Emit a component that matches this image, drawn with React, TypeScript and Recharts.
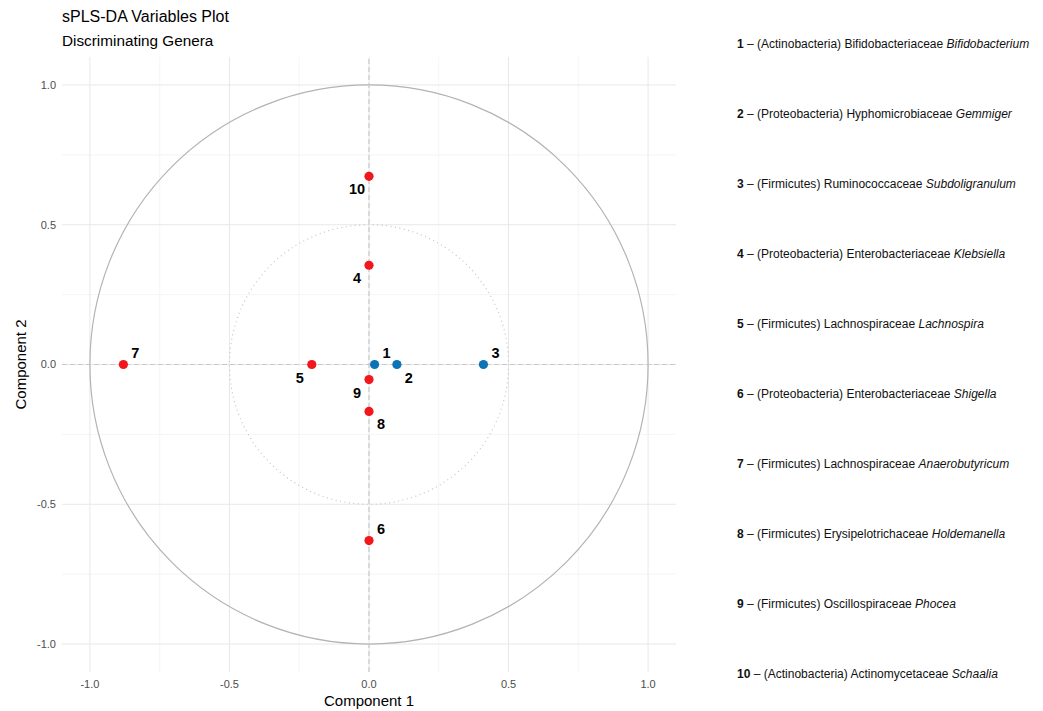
import React from 'react';
import {
  ScatterChart,
  Scatter,
  XAxis,
  YAxis,
  CartesianGrid,
  ReferenceLine,
  ReferenceArea,
  Cell,
} from 'recharts';

// ---- Data ----
const ids = [1, 2, 3, 4, 5, 6, 7, 8, 9, 10];
const comp1 = [0.02, 0.1, 0.41, 0, -0.205, 0, -0.88, 0, 0, 0];
const comp2 = [0, 0, 0, 0.355, 0, -0.63, 0, -0.168, -0.054, 0.673];
const groups = ['pos', 'pos', 'pos', 'neg', 'neg', 'neg', 'neg', 'neg', 'neg', 'neg'];
const labelSides = ['ur', 'dr', 'ur', 'dl', 'dl', 'ur', 'ur', 'dr', 'dl', 'dl'];

const phyla = [
  'Actinobacteria', 'Proteobacteria', 'Firmicutes', 'Proteobacteria', 'Firmicutes',
  'Proteobacteria', 'Firmicutes', 'Firmicutes', 'Firmicutes', 'Actinobacteria',
];
const families = [
  'Bifidobacteriaceae', 'Hyphomicrobiaceae', 'Ruminococcaceae', 'Enterobacteriaceae', 'Lachnospiraceae',
  'Enterobacteriaceae', 'Lachnospiraceae', 'Erysipelotrichaceae', 'Oscillospiraceae', 'Actinomycetaceae',
];
const genera = [
  'Bifidobacterium', 'Gemmiger', 'Subdoligranulum', 'Klebsiella', 'Lachnospira',
  'Shigella', 'Anaerobutyricum', 'Holdemanella', 'Phocea', 'Schaalia',
];

const axisTicks = [-1, -0.5, 0, 0.5, 1];
const minorTicks = [-0.75, -0.25, 0.25, 0.75];

const groupColors: Record<string, string> = { pos: '#0A74B5', neg: '#F2171C' };

const points = ids.map((id, i) => ({
  id,
  x: comp1[i],
  y: comp2[i],
  group: groups[i],
  side: labelSides[i],
}));

const FONT = '"Liberation Sans", Arial, Helvetica, sans-serif';

const PointShape = (props: any) => {
  const { cx, cy, payload } = props;
  if (cx == null || cy == null) return null;
  const side: string = payload.side;
  const dx = side.includes('r') ? 12 : -12;
  const dy = side.includes('u') ? -12 : 13;
  return (
    <g>
      <circle cx={cx} cy={cy} r={4.6} fill={groupColors[payload.group]} />
      <text
        x={cx + dx}
        y={cy + dy}
        textAnchor="middle"
        dominantBaseline="central"
        fontSize={14.5}
        fontWeight="bold"
        fill="#000"
        fontFamily={FONT}
      >
        {payload.id}
      </text>
    </g>
  );
};

const circleShape = (stroke: string, dash?: string) => (p: any) => (
  <ellipse
    cx={p.x + p.width / 2}
    cy={p.y + p.height / 2}
    rx={p.width / 2}
    ry={p.height / 2}
    fill="none"
    stroke={stroke}
    strokeWidth={1.2}
    strokeDasharray={dash}
  />
);

export default function App() {
  return (
    <div
      style={{
        position: 'absolute',
        left: 0,
        top: 0,
        width: 1043,
        height: 711,
        background: '#fff',
        fontFamily: FONT,
      }}
    >
      <div style={{ position: 'absolute', left: 62, top: 6, fontSize: 16, color: '#000', lineHeight: '22px' }}>
        sPLS-DA Variables Plot
      </div>
      <div style={{ position: 'absolute', left: 62, top: 31, fontSize: 15.3, color: '#000', lineHeight: '20px' }}>
        Discriminating Genera
      </div>

      <div style={{ position: 'absolute', left: 0, top: 0 }}>
        <ScatterChart width={700} height={711} margin={{ top: 57, right: 24, bottom: 0, left: 0 }}>
          <CartesianGrid
            stroke="#F0F0F0"
            strokeWidth={0.7}
            horizontalValues={minorTicks}
            verticalValues={minorTicks}
          />
          <CartesianGrid
            stroke="#E8E8E8"
            strokeWidth={1}
            horizontalValues={axisTicks}
            verticalValues={axisTicks}
          />
          <XAxis
            type="number"
            dataKey="x"
            domain={[-1.1, 1.1]}
            ticks={axisTicks}
            tickFormatter={(v: number) => v.toFixed(1)}
            axisLine={false}
            tickLine={false}
            tickSize={0}
            tickMargin={8}
            height={39}
            tick={{ fontSize: 11, fill: '#4D4D4D' }}
            allowDataOverflow
            label={{ value: 'Component 1', position: 'insideBottom', offset: 5, fontSize: 15, fill: '#000' }}
          />
          <YAxis
            type="number"
            dataKey="y"
            domain={[-1.1, 1.1]}
            ticks={axisTicks}
            tickFormatter={(v: number) => v.toFixed(1)}
            axisLine={false}
            tickLine={false}
            tickSize={0}
            tickMargin={6}
            width={62}
            tick={{ fontSize: 11, fill: '#4D4D4D' }}
            allowDataOverflow
            label={{
              value: 'Component 2',
              angle: -90,
              position: 'insideLeft',
              offset: 21,
              fontSize: 15,
              fill: '#000',
              style: { textAnchor: 'middle' },
            }}
          />
          <ReferenceArea
            x1={-1}
            x2={1}
            y1={-1}
            y2={1}
            shape={circleShape('#B3B3B3')}
          />
          <ReferenceArea
            x1={-0.5}
            x2={0.5}
            y1={-0.5}
            y2={0.5}
            shape={circleShape('#C4C4C4', '1 3.5')}
          />
          <ReferenceLine x={0} stroke="#C8C8C8" strokeWidth={1.2} strokeDasharray="5 3" />
          <ReferenceLine y={0} stroke="#C8C8C8" strokeWidth={1.2} strokeDasharray="5 3" />
          <Scatter data={points} isAnimationActive={false} shape={PointShape}>
            {points.map((p) => (
              <Cell key={p.id} fill={groupColors[p.group]} />
            ))}
          </Scatter>
        </ScatterChart>
      </div>

      {ids.map((id, i) => (
        <div
          key={id}
          style={{
            position: 'absolute',
            left: 737,
            top: 44 + i * 70.0 - 7,
            fontSize: 12,
            lineHeight: '14px',
            color: '#111',
            whiteSpace: 'nowrap',
          }}
        >
          <b>{id}</b> – ({phyla[i]}) {families[i]} <i>{genera[i]}</i>
        </div>
      ))}
    </div>
  );
}
